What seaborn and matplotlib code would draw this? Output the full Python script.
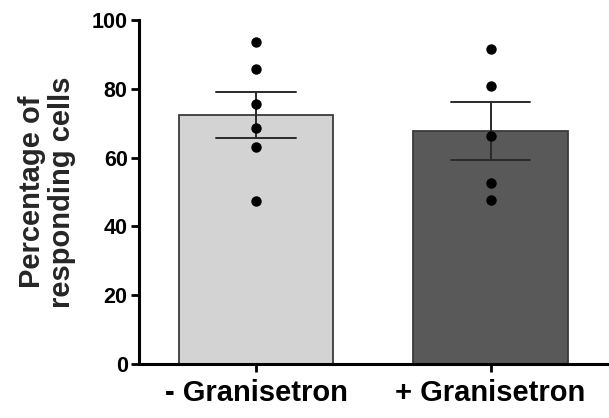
import pandas as pd
import matplotlib
matplotlib.use("Agg")
import matplotlib.pyplot as plt
import seaborn as sns

# Dados (percentagem de células que respondem)
grupos = ["- Granisetron", "+ Granisetron"]
sem_granisetron = [93.7, 85.8, 75.7, 68.6, 63.2, 47.4]
com_granisetron = [91.7, 80.9, 66.2, 52.5, 47.6]
cores_barras = ["#d3d3d3", "#595959"]

df = pd.DataFrame({
    "grupo": [grupos[0]] * len(sem_granisetron) + [grupos[1]] * len(com_granisetron),
    "valor": sem_granisetron + com_granisetron,
})

sns.set_style("ticks")
plt.rcParams["font.family"] = ["Liberation Sans", "DejaVu Sans"]
plt.rcParams["font.weight"] = "bold"

fig = plt.figure(figsize=(6.09, 4.18), dpi=100)
ax = fig.add_axes([0.228, 0.129, 0.770, 0.823])

sns.barplot(
    data=df, x="grupo", y="valor", hue="grupo", order=grupos, hue_order=grupos,
    palette=cores_barras, width=0.66, errorbar="se", capsize=0.34,
    edgecolor="#3a3a3a", linewidth=1.3, legend=False,
    err_kws={"color": "#2a2a2a", "linewidth": 1.4}, ax=ax,
)
sns.stripplot(
    data=df, x="grupo", y="valor", order=grupos, jitter=False,
    color="black", size=7.5, zorder=5, ax=ax,
)

ax.set_ylim(0, 100)
ax.set_xlim(-0.5, 1.5)
ax.set_yticks([0, 20, 40, 60, 80, 100])
ax.set_xlabel("")
ax.set_ylabel("Percentage of\nresponding cells", fontsize=21, fontweight="bold",
              linespacing=1.05)
ax.yaxis.set_label_coords(-0.135, 0.5)

for lbl in ax.get_yticklabels():
    lbl.set_fontsize(15.5)
    lbl.set_fontweight("bold")
for lbl in ax.get_xticklabels():
    lbl.set_fontsize(21)
    lbl.set_fontweight("bold")

ax.tick_params(axis="y", length=6, width=2, pad=2, colors="black")
ax.tick_params(axis="x", length=6, width=2, pad=5, colors="black")
for lado in ["top", "right"]:
    ax.spines[lado].set_visible(False)
for lado in ["left", "bottom"]:
    ax.spines[lado].set_linewidth(2.2)
    ax.spines[lado].set_color("black")

fig.savefig("out.png", dpi=100)
plt.close(fig)
